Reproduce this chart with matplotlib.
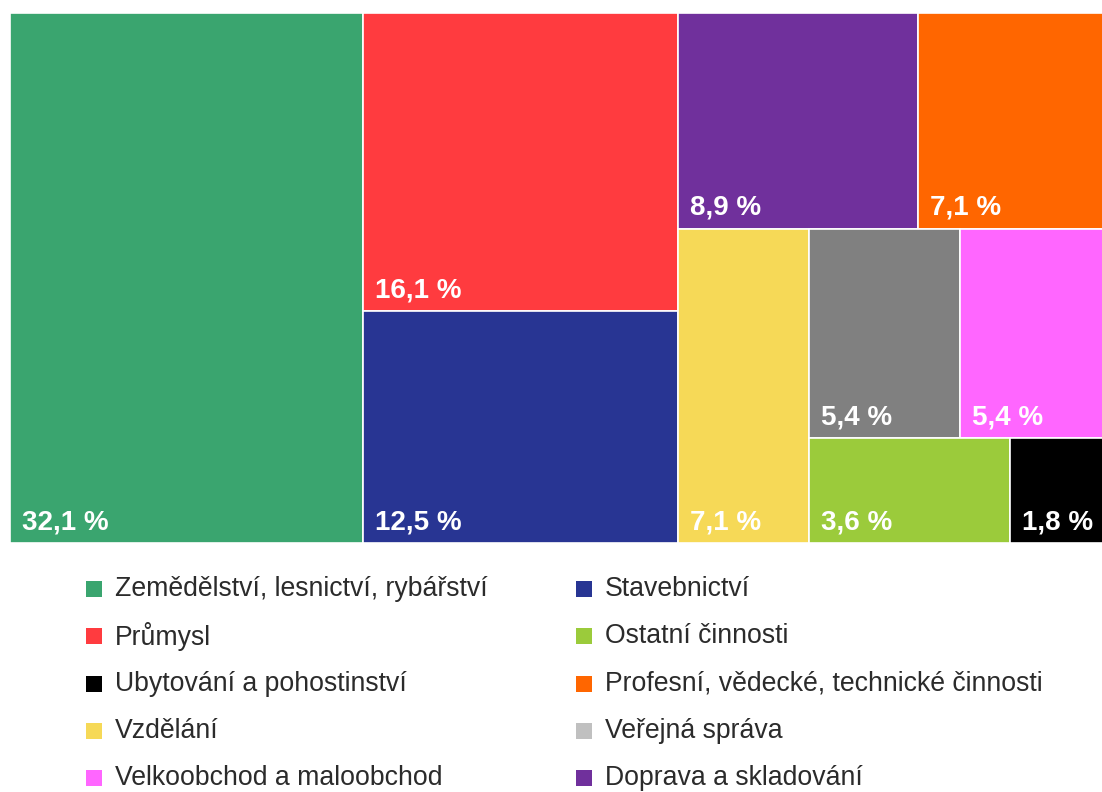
import matplotlib
matplotlib.use("Agg")
import matplotlib.pyplot as plt
from matplotlib.patches import Rectangle

# ---- data ----
categories = [
    "Zemědělství, lesnictví, rybářství",
    "Průmysl",
    "Stavebnictví",
    "Doprava a skladování",
    "Profesní, vědecké, technické činnosti",
    "Vzdělání",
    "Veřejná správa",
    "Velkoobchod a maloobchod",
    "Ostatní činnosti",
    "Ubytování a pohostinství",
]
values = [32.1, 16.1, 12.5, 8.9, 7.1, 7.1, 5.4, 5.4, 3.6, 1.8]
tile_colors = ["#3aa56f", "#ff3b3f", "#283593", "#70309c", "#ff6600",
               "#f6d957", "#808080", "#ff66ff", "#9bcb3b", "#000000"]
legend_order = [
    "Zemědělství, lesnictví, rybářství",
    "Stavebnictví",
    "Průmysl",
    "Ostatní činnosti",
    "Ubytování a pohostinství",
    "Profesní, vědecké, technické činnosti",
    "Vzdělání",
    "Veřejná správa",
    "Velkoobchod a maloobchod",
    "Doprava a skladování",
]
legend_colors = {c: col for c, col in zip(categories, tile_colors)}
legend_colors["Veřejná správa"] = "#c0c0c0"

# strip layout (direction, indices) -- sizes come from values
strips = [("v", [0]), ("v", [1, 2]), ("h", [3, 4]), ("v", [5]),
          ("h", [6, 7]), ("h", [8, 9])]

plt.rcParams['font.family'] = ['Liberation Sans', 'DejaVu Sans']

FW, FH = 1102, 792
fig = plt.figure(figsize=(FW / 100, FH / 100), dpi=100)

# plot area in pixels (extends past right figure edge, as in the reference)
PX0, PY0, PW, PH = 10, 13, 1100, 530
ax = fig.add_axes([PX0 / FW, 1 - (PY0 + PH) / FH, PW / FW, PH / FH])
ax.set_xlim(0, PW)
ax.set_ylim(PH, 0)
ax.axis("off")

x0, y0, w, h = 0.0, 0.0, float(PW), float(PH)
remaining = sum(values)
rects = {}
for direction, idxs in strips:
    s = sum(values[i] for i in idxs)
    frac = s / remaining
    if direction == "v":
        sw = w * frac
        yy = y0
        for i in idxs:
            th = h * values[i] / s
            rects[i] = (x0, yy, sw, th)
            yy += th
        x0 += sw
        w -= sw
    else:
        sh = h * frac
        xx = x0
        for i in idxs:
            tw = w * values[i] / s
            rects[i] = (xx, y0, tw, sh)
            xx += tw
        y0 += sh
        h -= sh
    remaining -= s

for i, (rx, ry, rw, rh) in rects.items():
    ax.add_patch(Rectangle((rx, ry), rw, rh, facecolor=tile_colors[i],
                           edgecolor="white", linewidth=1.2))
    ax.text(rx + 12, ry + rh - 14, f"{values[i]:.1f} %".replace(".", ","),
            color="white", fontsize=20, fontweight="bold",
            ha="left", va="baseline", clip_on=False)

# ---- legend ----
lax = fig.add_axes([0, 0, 1, 1])
lax.set_xlim(0, FW)
lax.set_ylim(FH, 0)
lax.axis("off")
col_x = [86, 576]
row_y0, row_dy = 589, 47.3
msz = 16
for k, name in enumerate(legend_order):
    c, r = k % 2, k // 2
    cx = col_x[c]
    cy = row_y0 + r * row_dy
    lax.add_patch(Rectangle((cx, cy - msz / 2), msz, msz,
                            facecolor=legend_colors[name], edgecolor="none"))
    lax.text(cx + 29, cy, name, fontsize=19.2, color="#2b2b2b",
             ha="left", va="center")

fig.savefig("out.png", dpi=100)
